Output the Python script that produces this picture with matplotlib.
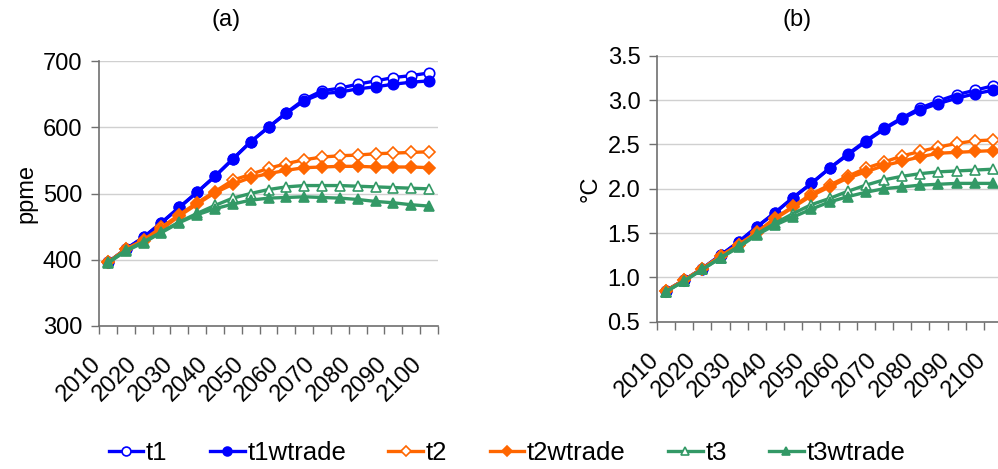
import matplotlib
matplotlib.use('Agg')
import matplotlib.pyplot as plt
import matplotlib.transforms as mtransforms
import numpy as np

plt.rcParams['font.family'] = ['Liberation Sans', 'DejaVu Sans']

# Data
years = list(range(2010, 2101, 5))
year_labels = [str(y) if y % 10 == 0 else '' for y in years]

# (a) concentration, ppme
ppm_t1 = [396, 416, 434, 456, 479, 502, 526, 552, 578, 600, 622, 642, 655, 659, 665, 670, 675, 678, 682]
ppm_t1wtrade = [396, 416, 434, 456, 479, 502, 526, 552, 578, 600, 621, 640, 651, 653, 658, 661, 665, 668, 670]
ppm_t2 = [396, 416, 430, 449, 468, 486, 503, 520, 529, 538, 545, 551, 555, 557, 558, 560, 561, 562, 563]
ppm_t2wtrade = [396, 416, 428, 446, 466, 484, 501, 514, 524, 530, 535, 539, 540, 541, 541, 540, 540, 540, 539]
ppm_t3 = [396, 414, 427, 442, 457, 470, 482, 493, 500, 506, 510, 512, 512, 512, 511, 510, 509, 508, 507]
ppm_t3wtrade = [395, 413, 426, 441, 456, 468, 477, 484, 490, 493, 494, 495, 494, 493, 491, 488, 486, 483, 481]

# (b) temperature, degC
tmp_t1 = [0.85, 0.97, 1.10, 1.25, 1.40, 1.57, 1.73, 1.90, 2.06, 2.23, 2.39, 2.54, 2.68, 2.80, 2.91, 2.99, 3.06, 3.11, 3.16]
tmp_t1wtrade = [0.85, 0.97, 1.10, 1.25, 1.40, 1.57, 1.73, 1.90, 2.06, 2.23, 2.38, 2.53, 2.67, 2.79, 2.89, 2.96, 3.02, 3.07, 3.11]
tmp_t2 = [0.85, 0.97, 1.10, 1.24, 1.37, 1.51, 1.67, 1.80, 1.94, 2.04, 2.14, 2.23, 2.30, 2.37, 2.42, 2.47, 2.51, 2.54, 2.55]
tmp_t2wtrade = [0.85, 0.97, 1.10, 1.24, 1.37, 1.50, 1.66, 1.79, 1.92, 2.02, 2.12, 2.19, 2.26, 2.31, 2.36, 2.40, 2.41, 2.42, 2.43]
tmp_t3 = [0.84, 0.96, 1.09, 1.22, 1.35, 1.49, 1.61, 1.72, 1.82, 1.89, 1.97, 2.04, 2.10, 2.14, 2.17, 2.19, 2.20, 2.21, 2.22]
tmp_t3wtrade = [0.84, 0.96, 1.09, 1.22, 1.34, 1.48, 1.59, 1.68, 1.77, 1.85, 1.91, 1.96, 2.00, 2.02, 2.04, 2.05, 2.06, 2.06, 2.06]

series_names = ['t1', 't1wtrade', 't2', 't2wtrade', 't3', 't3wtrade']
series_colors = ['#0000FF', '#0000FF', '#FF6600', '#FF6600', '#339966', '#339966']
series_markers = ['o', 'o', 'D', 'D', '^', '^']
series_filled = [False, True, False, True, False, True]
marker_sizes = [7.5, 7.5, 6, 6, 7.5, 7.5]

ppm_data = [ppm_t1, ppm_t1wtrade, ppm_t2, ppm_t2wtrade, ppm_t3, ppm_t3wtrade]
tmp_data = [tmp_t1, tmp_t1wtrade, tmp_t2, tmp_t2wtrade, tmp_t3, tmp_t3wtrade]

fig = plt.figure(figsize=(9.98, 4.69), dpi=100)
ax1 = fig.add_axes([99/998, 1-326/469, 339/998, 265/469])
ax2 = fig.add_axes([657/998, 1-321.7/469, 345/998, 266/469])

FS = 17
x = np.arange(len(years))
label_shift = mtransforms.ScaledTranslation(-10/100, -4/100, fig.dpi_scale_trans)


def draw(ax, data, ylim, yticks, yfmt, ylabel):
    for vals, name, c, m, filled, ms in zip(data, series_names, series_colors,
                                            series_markers, series_filled, marker_sizes):
        ax.plot(x, vals, color=c, lw=2.4, marker=m, ms=ms,
                mfc=c if filled else 'white', mec=c, mew=1.2, label=name, zorder=3)
    ax.set_xlim(-0.5, len(years) - 0.5)
    ax.set_ylim(*ylim)
    ax.set_yticks(yticks)
    ax.set_yticklabels([yfmt.format(v) for v in yticks])
    ax.yaxis.grid(True, color='#d0d0d0', lw=1)
    ax.set_axisbelow(True)
    # category ticks between points, labels every 10 years
    ax.set_xticks(np.arange(-0.5, len(years), 1.0), minor=True)
    ax.set_xticks(x)
    ax.set_xticklabels(year_labels, rotation=45, ha='right', va='center',
                       rotation_mode='anchor')
    ax.tick_params(axis='x', which='major', length=0, pad=22, labelsize=FS)
    ax.tick_params(axis='x', which='minor', length=6, color='#707070', width=1)
    ax.tick_params(axis='y', length=6, color='#707070', width=1, labelsize=FS, pad=6)
    for lab in ax.get_xticklabels():
        lab.set_transform(lab.get_transform() + label_shift)
    for s in ['top', 'right']:
        ax.spines[s].set_visible(False)
    for s in ['left', 'bottom']:
        ax.spines[s].set_color('#707070')
        ax.spines[s].set_linewidth(1.2)
    ax.set_ylabel(ylabel, fontsize=FS, labelpad=4)


draw(ax1, ppm_data, (300, 700), [300, 400, 500, 600, 700], '{:.0f}', 'ppme')
draw(ax2, tmp_data, (0.5, 3.5), [0.5, 1.0, 1.5, 2.0, 2.5, 3.0, 3.5], '{:.1f}', '°C')

fig.text(226/998, 1-20/469, '(a)', ha='center', va='center', fontsize=FS)
fig.text(797/998, 1-20/469, '(b)', ha='center', va='center', fontsize=FS)

handles, labels = ax1.get_legend_handles_labels()
fig.legend(handles, labels, loc='center', bbox_to_anchor=(507/998, 1-453/469), ncol=6,
           frameon=False, fontsize=18.5, handlelength=1.35, handletextpad=0.1,
           columnspacing=1.65, borderpad=0, markerscale=0.85)

fig.savefig('out.png', dpi=100)
